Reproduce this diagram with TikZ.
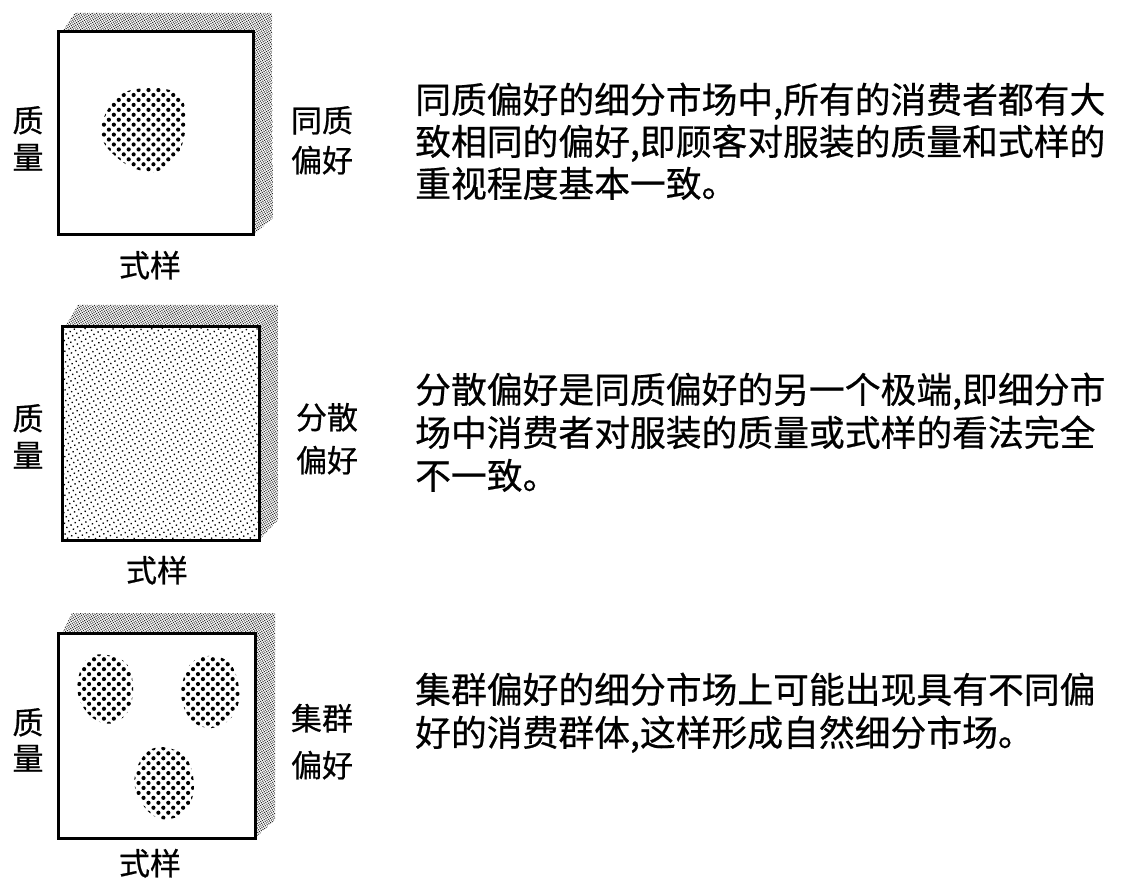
\documentclass[tikz,border=0pt]{standalone}
\usepackage{fontspec}
\setmainfont{Noto Sans CJK SC}[FakeBold=0.6]
\usetikzlibrary{patterns.meta}
\begin{document}
\begin{tikzpicture}[x=1pt,y=-1pt,
  txt/.style={inner sep=0pt,anchor=base west,font=\fontsize{35.8}{42}\selectfont},
  lbl/.style={inner sep=0pt,anchor=base,font=\fontsize{31}{36}\selectfont},
  frame/.style={draw=black,line width=3pt,fill=white},
  shade/.style={pattern={Dots[radius=0.75pt,distance=2pt,angle=30]},pattern color=black!85},
  blob/.style={pattern={Dots[radius=2.1pt,distance=7pt,angle=45]},pattern color=black},
  fine/.style={pattern={Dots[radius=0.95pt,distance=4.8pt,angle=30]},pattern color=black}
]
\useasboundingbox (0,0) rectangle (1122,882);

% ---------- box 1 ----------
\fill[shade] (62,32) -- (75,13) -- (272,13) -- (273,218) -- (253,235) -- cycle;
\draw[frame] (58,32) rectangle (253,235);
\fill[blob] plot[smooth cycle,tension=0.7] coordinates {(118,97) (150,88) (178,94) (185,112) (183,142) (170,163) (150,172) (120,160) (101,132)};
\node[lbl] (q1a) at (28,132) {质};
\node[lbl] (q1b) at (28,169) {量};
\node[lbl] (h1a) at (322,132) {同质};
\node[lbl] (h1b) at (322,172) {偏好};
\node[lbl] (s1) at (150,277) {式样};

% ---------- box 2 ----------
\fill[shade] (65,327) -- (78,305) -- (278,305) -- (278,520) -- (259,540) -- cycle;
\draw[frame] (62,327) rectangle (259,540);
\fill[fine] (63.5,328.5) rectangle (257.5,538.5);
\node[lbl] (q2a) at (28,430) {质};
\node[lbl] (q2b) at (28,467) {量};
\node[lbl] (h2a) at (327,429) {分散};
\node[lbl] (h2b) at (327,472) {偏好};
\node[lbl] (s2) at (157,582) {式样};

% ---------- box 3 ----------
\fill[shade] (62,633) -- (72,613) -- (275,613) -- (275,820) -- (255,838) -- cycle;
\draw[frame] (58,633) rectangle (255,838);
\fill[blob] plot[smooth cycle,tension=0.7] coordinates {(90,657) (115,657) (130,670) (132,700) (120,720) (100,722) (82,705) (78,680)};
\fill[blob] plot[smooth cycle,tension=0.7] coordinates {(195,660) (222,658) (236,675) (238,705) (222,725) (200,726) (185,710) (182,685)};
\fill[blob] plot[smooth cycle,tension=0.7] coordinates {(150,750) (175,750) (190,765) (193,795) (180,815) (158,818) (140,800) (135,775)};
\node[lbl] (q3a) at (28,734) {质};
\node[lbl] (q3b) at (28,770) {量};
\node[lbl] (h3a) at (322,730) {集群};
\node[lbl] (h3b) at (322,777) {偏好};
\node[lbl] (s3) at (150,875) {式样};

% ---------- paragraphs ----------
\node[txt] (p1a) at (415,113) {同质偏好的细分市场中,所有的消费者都有大};
\node[txt] (p1b) at (415,155) {致相同的偏好,即顾客对服装的质量和式样的};
\node[txt] (p1c) at (415,197) {重视程度基本一致。};

\node[txt] (p2a) at (415,403) {分散偏好是同质偏好的另一个极端,即细分市};
\node[txt] (p2b) at (415,446) {场中消费者对服装的质量或式样的看法完全};
\node[txt] (p2c) at (415,489) {不一致。};

\node[txt] (p3a) at (415,703) {集群偏好的细分市场上可能出现具有不同偏};
\node[txt] (p3b) at (415,746) {好的消费群体,这样形成自然细分市场。};
\end{tikzpicture}
\end{document}
